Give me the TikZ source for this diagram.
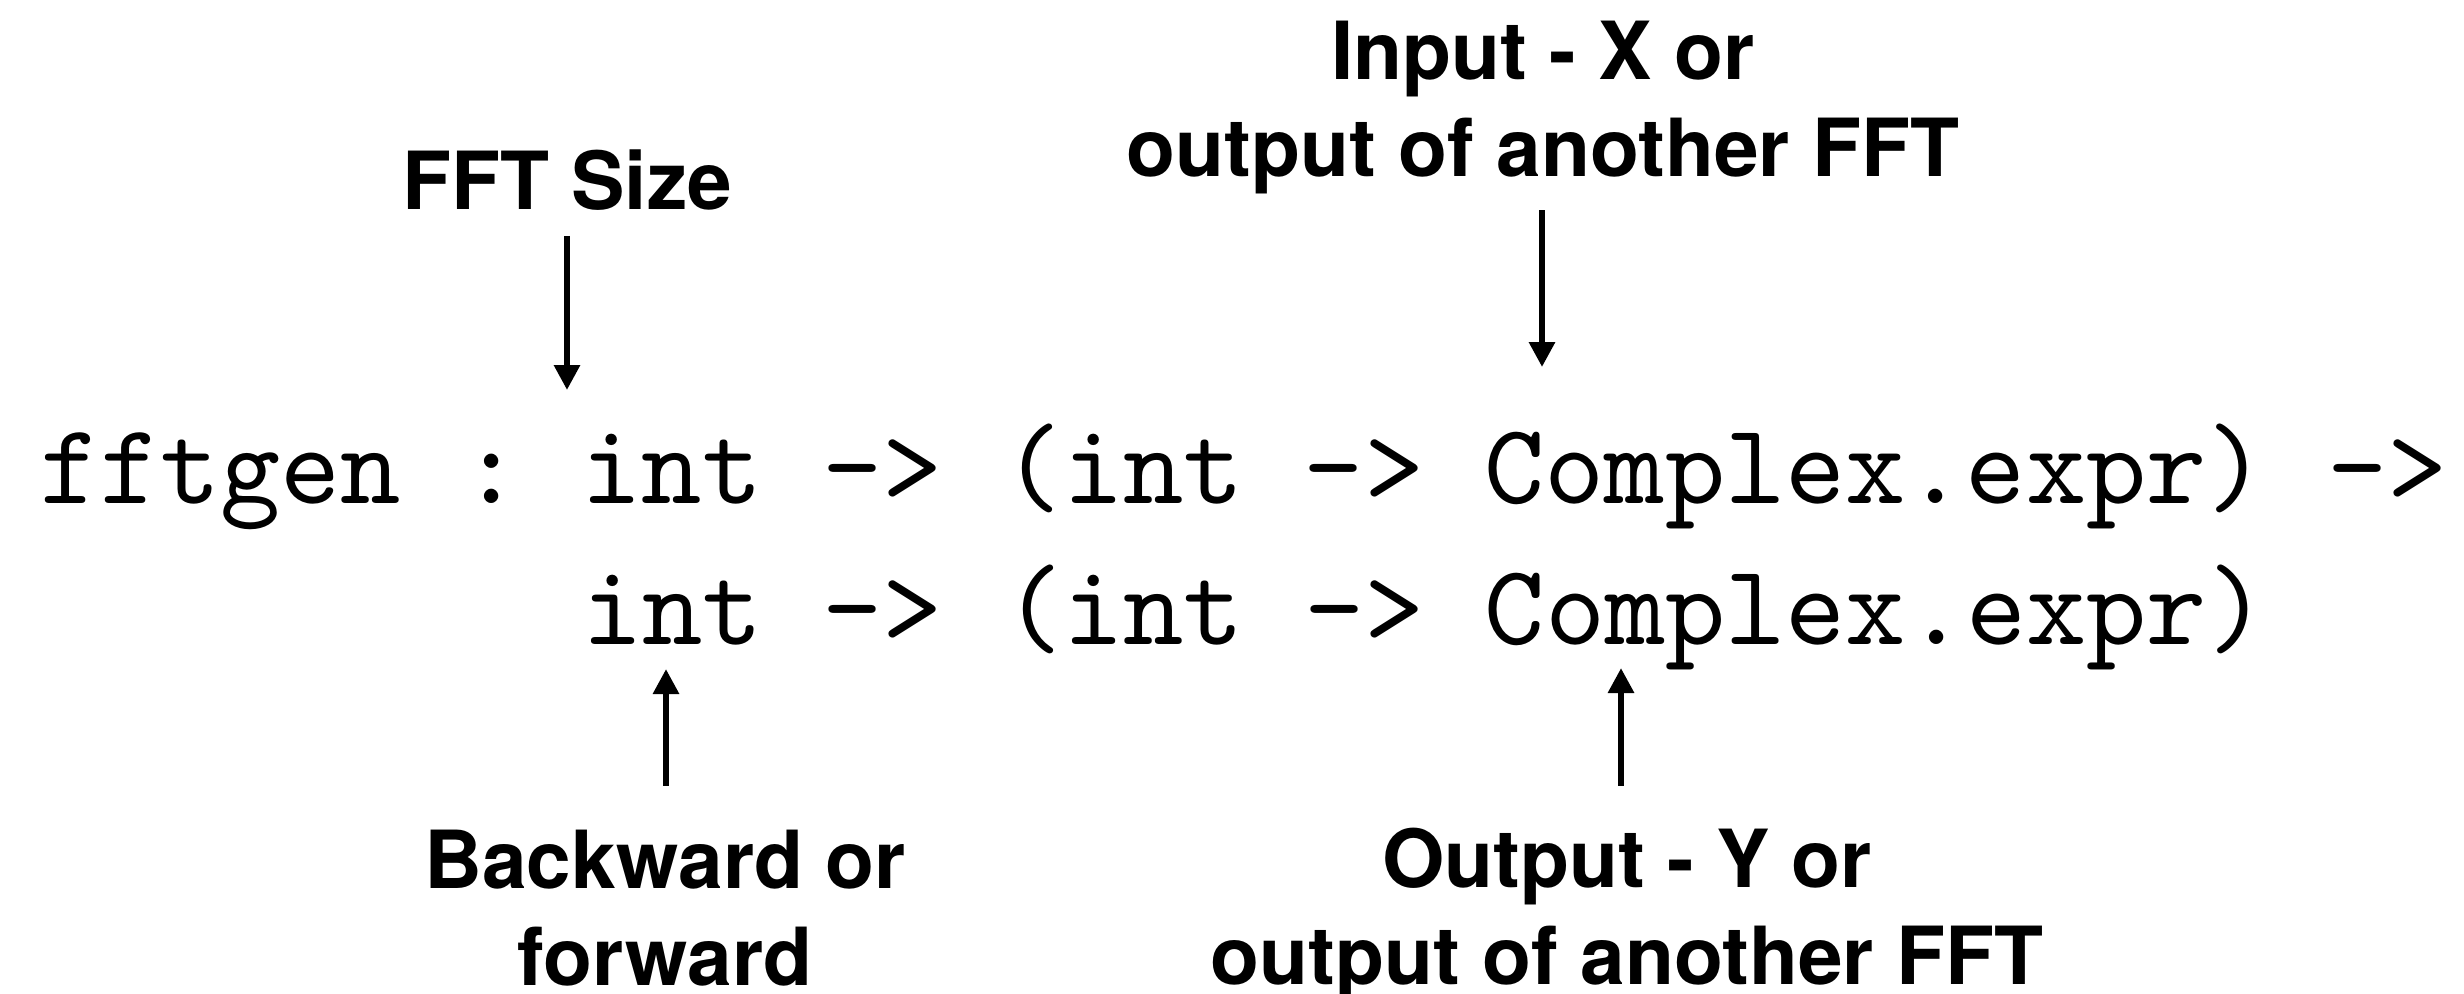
\documentclass[tikz,border=0pt]{standalone}
\usepackage{fontspec}
\setsansfont{TeX Gyre Heros}
\setmonofont{lmmono10-regular}[Extension=.otf]
\usetikzlibrary{arrows.meta}

\begin{document}
\begin{tikzpicture}[x=0.01cm,y=-0.01cm,
    code/.style={font=\ttfamily\fontsize{32.6}{40}\selectfont, inner sep=0pt, outer sep=0pt},
    note/.style={font=\sffamily\bfseries\fontsize{22.8}{27.6}\selectfont, align=center, inner sep=0pt, outer sep=0pt},
    pointer/.style={-{Triangle[length=0.25cm,width=0.25cm]}, line width=0.06cm}]
  \useasboundingbox (0,0) rectangle (2464,993);

  % the type of fftgen, broken over two lines
  \node[code, anchor=base west] (sig1) at (40,503) {fftgen : int -> (int -> Complex.expr) ->};
  \node[code, anchor=base west] (sig2) at (582,644) {int -> (int -> Complex.expr)};

  % notes above and below
  \node[note, anchor=base] (size) at (567,209) {FFT Size};
  \node[note, anchor=south] (input) at (1543,194) {Input - X or\\output of another FFT};
  \node[note, anchor=north] (dir) at (665,830) {Backward or\\forward};
  \node[note, anchor=north] (output) at (1627,828) {Output - Y or\\output of another FFT};

  % where the arrows end
  \coordinate (sizetip) at (567,390);
  \coordinate (inputtip) at (1542,367);
  \coordinate (dirtip) at (666,669);
  \coordinate (outputtip) at (1621,668);

  \draw[pointer, shorten <=0.26cm] (size.south -| sizetip) -- (sizetip);
  \draw[pointer, shorten <=0.16cm] (input.south -| inputtip) -- (inputtip);
  \draw[pointer, shorten <=0.44cm] (dir.north -| dirtip) -- (dirtip);
  \draw[pointer, shorten <=0.42cm] (output.north -| outputtip) -- (outputtip);
\end{tikzpicture}
\end{document}
